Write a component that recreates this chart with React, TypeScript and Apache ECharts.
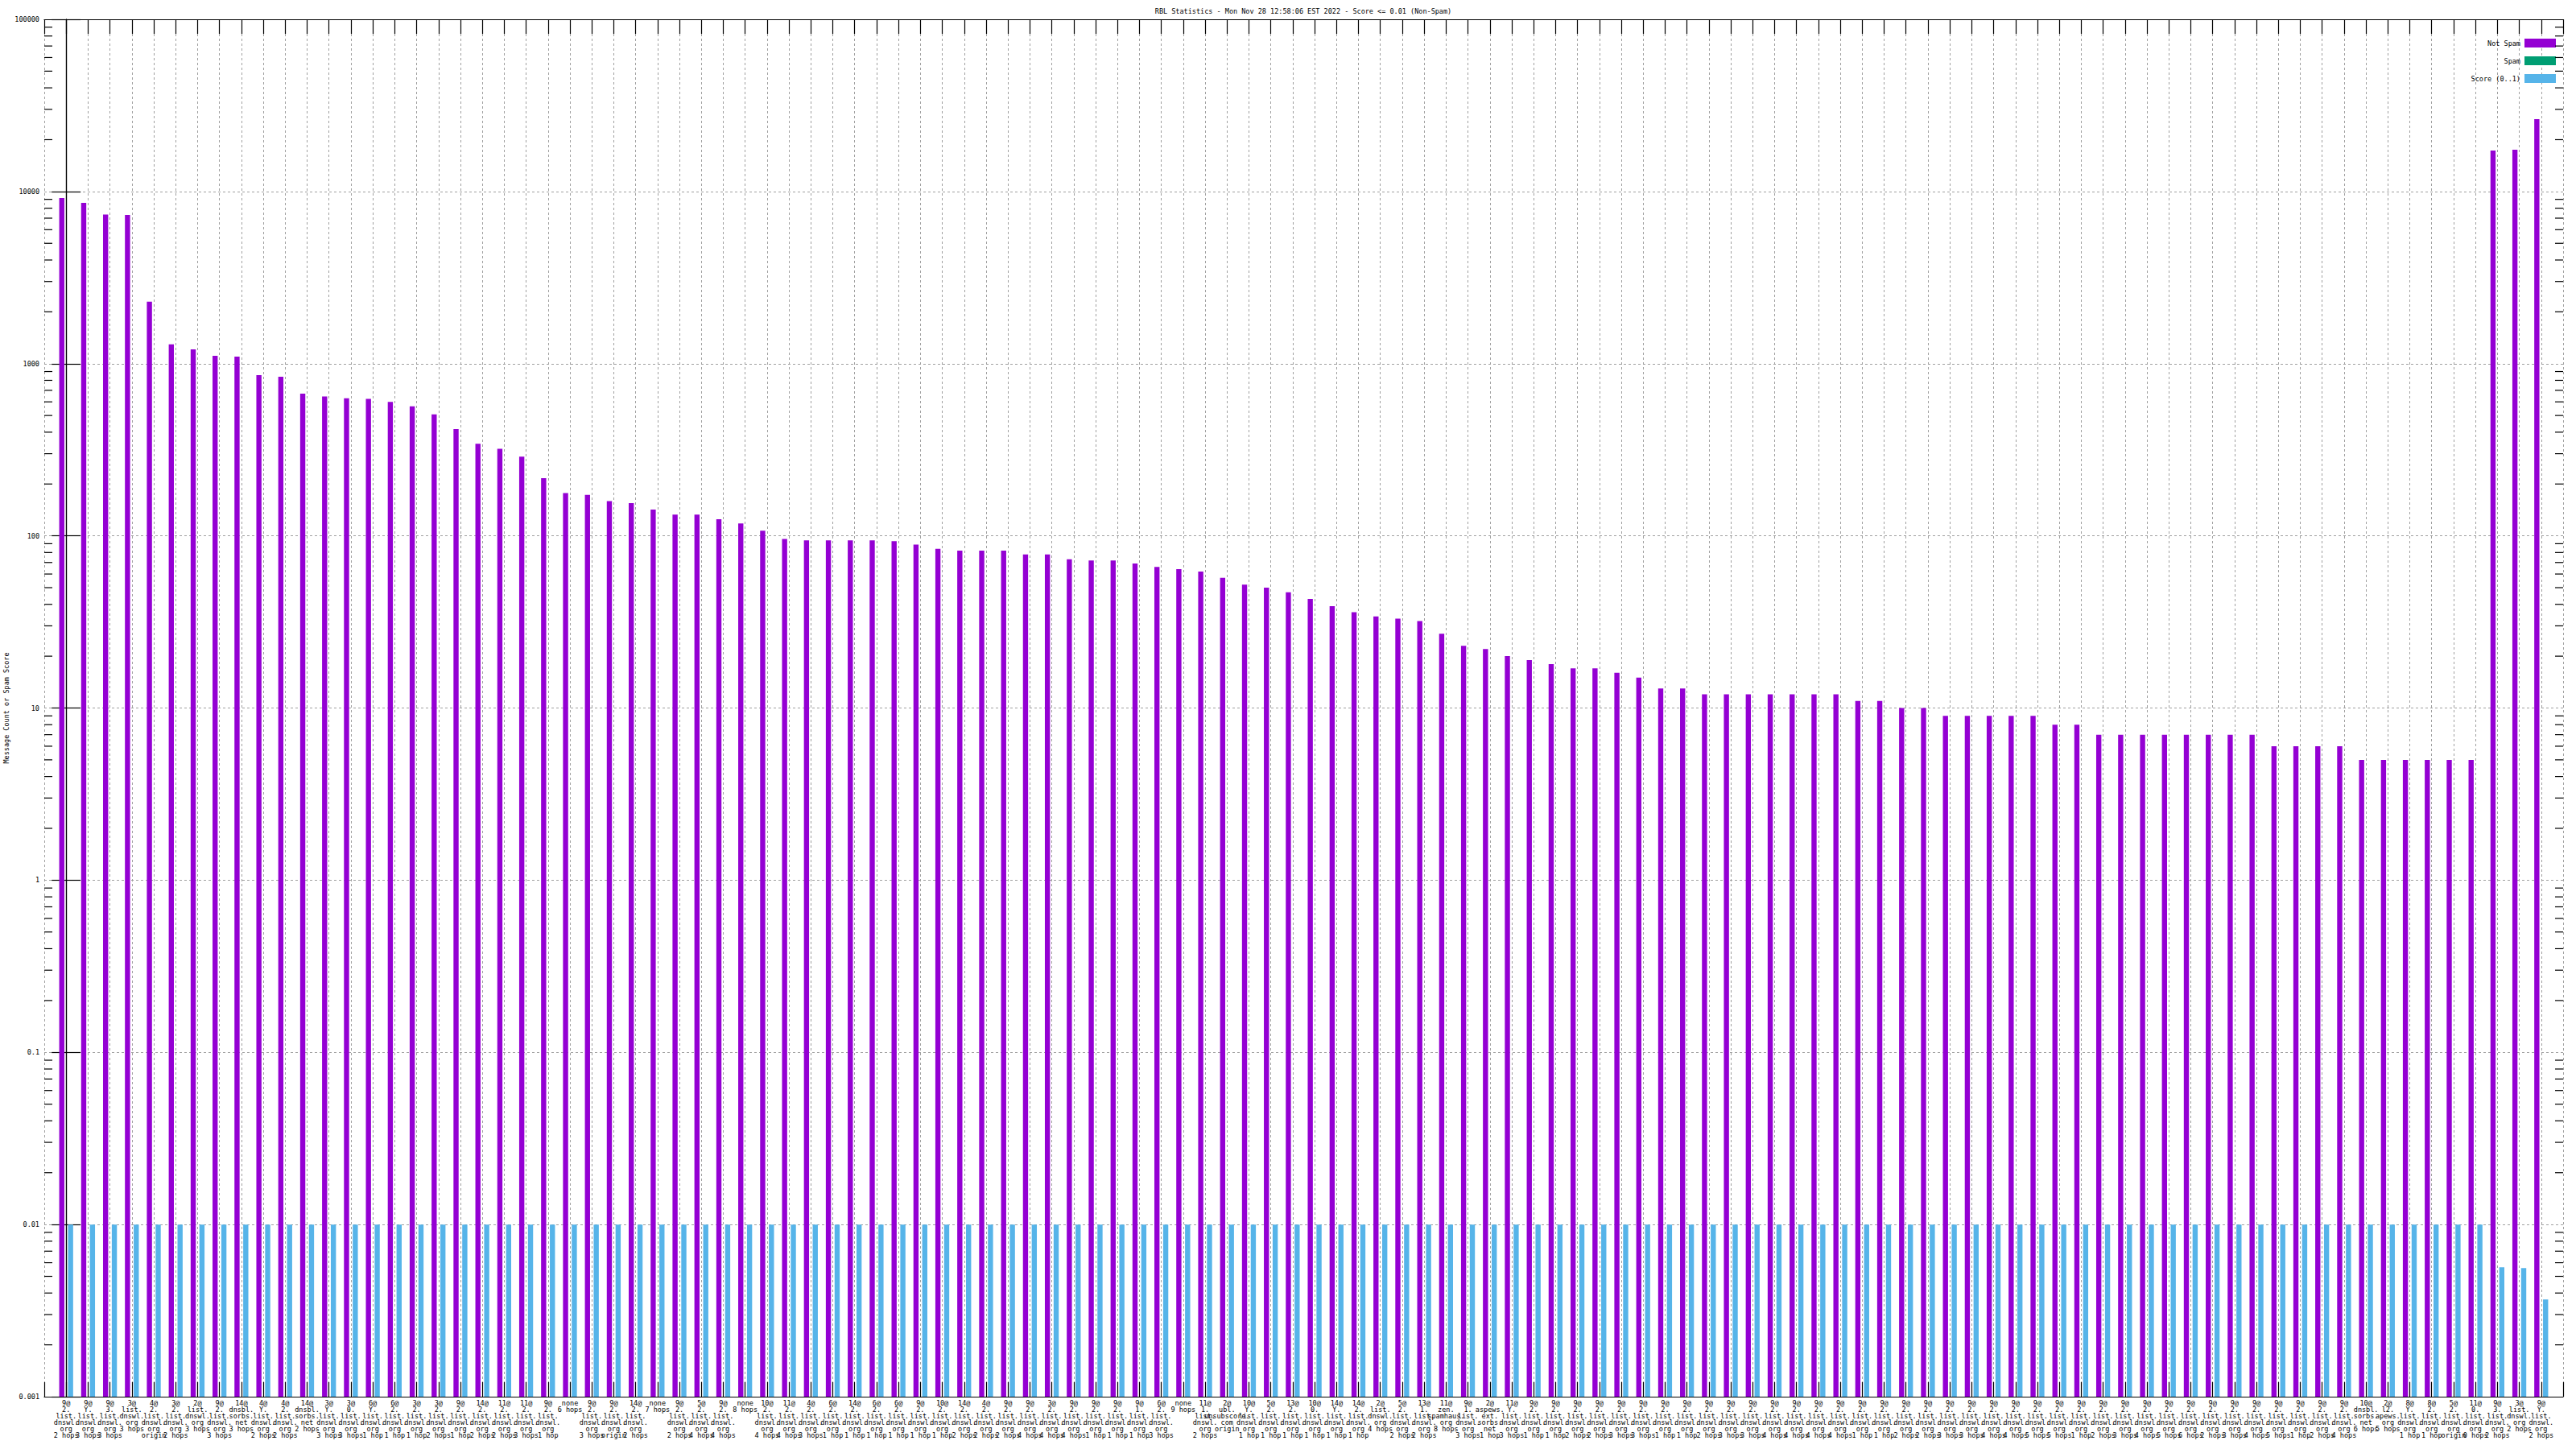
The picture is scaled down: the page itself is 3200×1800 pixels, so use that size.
import React, { useEffect, useRef } from "react";
import * as echarts from "echarts";

const TITLE = "RBL Statistics - Mon Nov 28 12:58:06 EST 2022 - Score <= 0.01 (Non-Spam)";
const Y_NAME = "Message Count or Spam Score";
const SERIES_NAMES = ["Not Spam", "Spam", "Score (0..1)"];
const SERIES_COLORS = ["#9400d3", "#009e73", "#56b4e9"];

const categories: string[] = [
  "9@\n2.\nlist.\ndnswl.\norg\n2 hops",
  "9@\nY.\nlist.\ndnswl.\norg\n3 hops",
  "9@\n3.\nlist.\ndnswl.\norg\n3 hops",
  "3@\nlist.\ndnswl.\norg\n3 hops",
  "4@\n2.\nlist.\ndnswl.\norg\norigin",
  "3@\n2.\nlist.\ndnswl.\norg\n2 hops",
  "2@\nlist.\ndnswl.\norg\n3 hops",
  "9@\n2.\nlist.\ndnswl.\norg\n3 hops",
  "14@\ndnsbl.\nsorbs.\nnet\n3 hops",
  "4@\nY.\nlist.\ndnswl.\norg\n2 hops",
  "4@\n2.\nlist.\ndnswl.\norg\n2 hops",
  "14@\ndnsbl.\nsorbs.\nnet\n2 hops",
  "3@\nY.\nlist.\ndnswl.\norg\n3 hops",
  "3@\n0.\nlist.\ndnswl.\norg\n3 hops",
  "6@\nY.\nlist.\ndnswl.\norg\n1 hop",
  "6@\n2.\nlist.\ndnswl.\norg\n1 hop",
  "3@\n2.\nlist.\ndnswl.\norg\n1 hop",
  "3@\n2.\nlist.\ndnswl.\norg\n2 hops",
  "9@\n2.\nlist.\ndnswl.\norg\n1 hop",
  "14@\n2.\nlist.\ndnswl.\norg\n2 hops",
  "11@\n2.\nlist.\ndnswl.\norg\n2 hops",
  "11@\n2.\nlist.\ndnswl.\norg\n3 hops",
  "9@\n2.\nlist.\ndnswl.\norg\n1 hop",
  "none\n6 hops",
  "9@\n2.\nlist.\ndnswl.\norg\n3 hops",
  "9@\n2.\nlist.\ndnswl.\norg\norigin",
  "14@\n2.\nlist.\ndnswl.\norg\n2 hops",
  "none\n7 hops",
  "9@\n2.\nlist.\ndnswl.\norg\n2 hops",
  "5@\n2.\nlist.\ndnswl.\norg\n4 hops",
  "9@\n2.\nlist.\ndnswl.\norg\n4 hops",
  "none\n8 hops",
  "10@\n2.\nlist.\ndnswl.\norg\n4 hops",
  "11@\n2.\nlist.\ndnswl.\norg\n4 hops",
  "4@\n2.\nlist.\ndnswl.\norg\n3 hops",
  "6@\n2.\nlist.\ndnswl.\norg\n1 hop",
  "14@\n2.\nlist.\ndnswl.\norg\n1 hop",
  "6@\n2.\nlist.\ndnswl.\norg\n1 hop",
  "6@\n2.\nlist.\ndnswl.\norg\n1 hop",
  "9@\n2.\nlist.\ndnswl.\norg\n1 hop",
  "10@\n2.\nlist.\ndnswl.\norg\n1 hop",
  "14@\n2.\nlist.\ndnswl.\norg\n2 hops",
  "4@\n2.\nlist.\ndnswl.\norg\n2 hops",
  "9@\n2.\nlist.\ndnswl.\norg\n2 hops",
  "9@\n2.\nlist.\ndnswl.\norg\n4 hops",
  "3@\n2.\nlist.\ndnswl.\norg\n4 hops",
  "9@\n2.\nlist.\ndnswl.\norg\n4 hops",
  "9@\n2.\nlist.\ndnswl.\norg\n1 hop",
  "9@\n2.\nlist.\ndnswl.\norg\n1 hop",
  "9@\n1.\nlist.\ndnswl.\norg\n1 hop",
  "6@\n2.\nlist.\ndnswl.\norg\n3 hops",
  "none\n9 hops",
  "11@\n1.\nlist.\ndnswl.\norg\n2 hops",
  "2@\nubl.\nunsubscore.\ncom\norigin",
  "10@\nY.\nlist.\ndnswl.\norg\n1 hop",
  "5@\n2.\nlist.\ndnswl.\norg\n1 hop",
  "13@\n2.\nlist.\ndnswl.\norg\n1 hop",
  "10@\n0.\nlist.\ndnswl.\norg\n1 hop",
  "14@\nY.\nlist.\ndnswl.\norg\n1 hop",
  "14@\n2.\nlist.\ndnswl.\norg\n1 hop",
  "2@\nlist.\ndnswl.\norg\n4 hops",
  "5@\n2.\nlist.\ndnswl.\norg\n2 hops",
  "13@\n1.\nlist.\ndnswl.\norg\n2 hops",
  "11@\nzen.\nspamhaus.\norg\n8 hops",
  "9@\n1.\nlist.\ndnswl.\norg\n3 hops",
  "2@\naspews.\next.\nsorbs.\nnet\n1 hop",
  "11@\nY.\nlist.\ndnswl.\norg\n3 hops",
  "9@\n2.\nlist.\ndnswl.\norg\n1 hop",
  "9@\n2.\nlist.\ndnswl.\norg\n1 hop",
  "9@\n2.\nlist.\ndnswl.\norg\n2 hops",
  "9@\n2.\nlist.\ndnswl.\norg\n2 hops",
  "9@\n2.\nlist.\ndnswl.\norg\n3 hops",
  "9@\n2.\nlist.\ndnswl.\norg\n3 hops",
  "9@\n2.\nlist.\ndnswl.\norg\n1 hop",
  "9@\n2.\nlist.\ndnswl.\norg\n1 hop",
  "9@\n2.\nlist.\ndnswl.\norg\n2 hops",
  "9@\n2.\nlist.\ndnswl.\norg\n3 hops",
  "9@\n2.\nlist.\ndnswl.\norg\n3 hops",
  "9@\n2.\nlist.\ndnswl.\norg\n4 hops",
  "9@\n2.\nlist.\ndnswl.\norg\n4 hops",
  "9@\n2.\nlist.\ndnswl.\norg\n4 hops",
  "9@\n2.\nlist.\ndnswl.\norg\n4 hops",
  "9@\n2.\nlist.\ndnswl.\norg\n1 hop",
  "9@\n2.\nlist.\ndnswl.\norg\n1 hop",
  "9@\n2.\nlist.\ndnswl.\norg\n2 hops",
  "9@\n2.\nlist.\ndnswl.\norg\n2 hops",
  "9@\n2.\nlist.\ndnswl.\norg\n3 hops",
  "9@\n2.\nlist.\ndnswl.\norg\n3 hops",
  "9@\n2.\nlist.\ndnswl.\norg\n4 hops",
  "9@\n2.\nlist.\ndnswl.\norg\n4 hops",
  "9@\n2.\nlist.\ndnswl.\norg\n5 hops",
  "9@\n2.\nlist.\ndnswl.\norg\n5 hops",
  "9@\n2.\nlist.\ndnswl.\norg\n1 hop",
  "9@\n2.\nlist.\ndnswl.\norg\n2 hops",
  "9@\n2.\nlist.\ndnswl.\norg\n3 hops",
  "9@\n2.\nlist.\ndnswl.\norg\n4 hops",
  "9@\n2.\nlist.\ndnswl.\norg\n5 hops",
  "9@\n2.\nlist.\ndnswl.\norg\n6 hops",
  "9@\n2.\nlist.\ndnswl.\norg\n2 hops",
  "9@\n2.\nlist.\ndnswl.\norg\n3 hops",
  "9@\n2.\nlist.\ndnswl.\norg\n4 hops",
  "9@\n2.\nlist.\ndnswl.\norg\n5 hops",
  "9@\n2.\nlist.\ndnswl.\norg\n1 hop",
  "9@\n2.\nlist.\ndnswl.\norg\n2 hops",
  "9@\n2.\nlist.\ndnswl.\norg\n4 hops",
  "10@\ndnsbl.\nsorbs.\nnet\n6 hops",
  "2@\nl2.\napews.\norg\n5 hops",
  "8@\nY.\nlist.\ndnswl.\norg\n1 hop",
  "8@\n2.\nlist.\ndnswl.\norg\n1 hop",
  "5@\n2.\nlist.\ndnswl.\norg\norigin",
  "11@\n0.\nlist.\ndnswl.\norg\n0 hops",
  "9@\n3.\nlist.\ndnswl.\norg\n2 hops",
  "3@\nlist.\ndnswl.\norg\n2 hops",
  "9@\nY.\nlist.\ndnswl.\norg\n2 hops",
];

const notSpamCounts: number[] = [
  9160, 8580, 7350, 7300, 2290, 1295, 1210, 1110, 1100, 858,
  840, 670, 645, 630, 625, 600, 565, 508, 417, 343,
  320, 288, 216, 177, 173, 159, 155, 142, 133, 133,
  125, 118, 107, 96, 94, 94, 94, 94, 93, 89,
  84, 82, 82, 82, 78, 78, 73, 72, 72, 69,
  66, 64, 62, 57, 52, 50, 47, 43, 39, 36,
  34, 33, 32, 27, 23, 22, 20, 19, 18, 17,
  17, 16, 15, 13, 13, 12, 12, 12, 12, 12,
  12, 12, 11, 11, 10, 10, 9, 9, 9, 9,
  9, 8, 8, 7, 7, 7, 7, 7, 7, 7,
  7, 6, 6, 6, 6, 5, 5, 5, 5, 5,
  5, 17300, 17500, 26300,
];

const spamCounts: number[] = [
  0, 0, 0, 0, 0, 0, 0, 0, 0, 0,
  0, 0, 0, 0, 0, 0, 0, 0, 0, 0,
  0, 0, 0, 0, 0, 0, 0, 0, 0, 0,
  0, 0, 0, 0, 0, 0, 0, 0, 0, 0,
  0, 0, 0, 0, 0, 0, 0, 0, 0, 0,
  0, 0, 0, 0, 0, 0, 0, 0, 0, 0,
  0, 0, 0, 0, 0, 0, 0, 0, 0, 0,
  0, 0, 0, 0, 0, 0, 0, 0, 0, 0,
  0, 0, 0, 0, 0, 0, 0, 0, 0, 0,
  0, 0, 0, 0, 0, 0, 0, 0, 0, 0,
  0, 0, 0, 0, 0, 0, 0, 0, 0, 0,
  0, 0, 0, 0,
];

const scores: number[] = [
  0.01, 0.01, 0.01, 0.01, 0.01, 0.01, 0.01, 0.01, 0.01, 0.01,
  0.01, 0.01, 0.01, 0.01, 0.01, 0.01, 0.01, 0.01, 0.01, 0.01,
  0.01, 0.01, 0.01, 0.01, 0.01, 0.01, 0.01, 0.01, 0.01, 0.01,
  0.01, 0.01, 0.01, 0.01, 0.01, 0.01, 0.01, 0.01, 0.01, 0.01,
  0.01, 0.01, 0.01, 0.01, 0.01, 0.01, 0.01, 0.01, 0.01, 0.01,
  0.01, 0.01, 0.01, 0.01, 0.01, 0.01, 0.01, 0.01, 0.01, 0.01,
  0.01, 0.01, 0.01, 0.01, 0.01, 0.01, 0.01, 0.01, 0.01, 0.01,
  0.01, 0.01, 0.01, 0.01, 0.01, 0.01, 0.01, 0.01, 0.01, 0.01,
  0.01, 0.01, 0.01, 0.01, 0.01, 0.01, 0.01, 0.01, 0.01, 0.01,
  0.01, 0.01, 0.01, 0.01, 0.01, 0.01, 0.01, 0.01, 0.01, 0.01,
  0.01, 0.01, 0.01, 0.01, 0.01, 0.01, 0.01, 0.01, 0.01, 0.01,
  0.01, 0.00565, 0.00559, 0.00367,
];

const yTicks: number[] = [0.001, 0.01, 0.1, 1, 10, 100, 1000, 10000, 100000];
const yTickLabels: string[] = ["0.001", "0.01", "0.1", "1", "10", "100", "1000", "10000", "100000"];
const minorMultipliers: number[] = [2, 3, 4, 5, 6, 7, 8, 9];

const FONT = "DejaVu Sans Mono";
const FS = 8.5;
const Y_MIN = yTicks[0];
const Y_MAX = yTicks[yTicks.length - 1];
const X_MIN = -1;
const X_MAX = categories.length;
const BAR_W = 0.235;
const SLOT = 0.2;

const makeBarRender = (slotOffset: number, color: string) => (params: any, api: any) => {
  const xi = api.value(0);
  const v = api.value(1);
  if (!(v > 0)) return null;
  const top = api.coord([xi, v]);
  const base = api.coord([xi, Y_MIN]);
  const unit = api.coord([xi + 1, v])[0] - top[0];
  const w = unit * BAR_W;
  const cx = top[0] + unit * SLOT * slotOffset;
  return {
    type: "rect",
    shape: { x: cx - w / 2, y: top[1], width: w, height: base[1] - top[1] },
    style: { fill: color },
  };
};

const yLabel = (v: number) => {
  const i = yTicks.findIndex((t) => Math.abs(Math.log10(t) - Math.log10(v)) < 1e-6);
  return i >= 0 ? yTickLabels[i] : "";
};

export default function App() {
  const ref = useRef<HTMLDivElement>(null);
  useEffect(() => {
    document.body.style.margin = "0";
    const chart = echarts.init(ref.current!, null, { renderer: "svg" });

    const minorTicks: number[] = [];
    for (let k = 0; k < yTicks.length - 1; k++) {
      for (const m of minorMultipliers) minorTicks.push(yTicks[k] * m);
    }

    const gridLine = { show: true, lineStyle: { color: "#a0a0a0", width: 1, type: [3, 3] as any } };
    const frameLine = { show: true, lineStyle: { color: "#000", width: 1.2 } };
    const tick = { show: true, inside: true, length: 18, lineStyle: { color: "#000", width: 1.2 } };

    const option: any = {
      animation: false,
      backgroundColor: "#fff",
      textStyle: { fontFamily: FONT, color: "#000" },
      grid: { left: 55, right: 16, top: 24, bottom: 65, containLabel: false, outerBoundsMode: "none" },
      graphic: [
        {
          type: "text",
          x: 1619,
          y: 14,
          style: {
            text: TITLE,
            fontFamily: FONT,
            fontSize: FS,
            fill: "#000",
            align: "center",
            verticalAlign: "middle",
          },
        },
      ],
      legend: {
        data: SERIES_NAMES,
        orient: "vertical",
        right: 25,
        top: 48,
        align: "right",
        icon: "rect",
        itemWidth: 39,
        itemHeight: 11,
        itemGap: 11,
        padding: 0,
        selectedMode: false,
        textStyle: { fontFamily: FONT, fontSize: FS, color: "#000" },
      },
      xAxis: [
        {
          type: "value",
          min: X_MIN,
          max: X_MAX,
          interval: 1,
          position: "bottom",
          axisLine: frameLine,
          axisTick: tick,
          splitLine: gridLine,
          axisLabel: {
            show: true,
            margin: 4,
            fontFamily: FONT,
            fontSize: FS,
            lineHeight: 8,
            color: "#000",
            align: "center",
            verticalAlign: "top",
            showMinLabel: true,
            showMaxLabel: true,
            formatter: (v: number) => categories[Math.round(v)] ?? "",
          },
        },
        {
          type: "value",
          min: X_MIN,
          max: X_MAX,
          interval: 1,
          position: "top",
          axisLine: frameLine,
          axisTick: tick,
          splitLine: { show: false },
          axisLabel: { show: false },
        },
      ],
      yAxis: [
        {
          type: "log",
          logBase: 10,
          min: Y_MIN,
          max: Y_MAX,
          splitNumber: 8,
          position: "left",
          name: Y_NAME,
          nameLocation: "middle",
          nameGap: 43,
          nameRotate: 90,
          nameMoveOverlap: false,
          nameTextStyle: { fontFamily: FONT, fontSize: FS, color: "#000" },
          axisLine: frameLine,
          axisTick: tick,
          splitLine: gridLine,
          minorTick: { show: false },
          axisLabel: {
            margin: 6,
            fontFamily: FONT,
            fontSize: FS,
            color: "#000",
            formatter: yLabel,
          },
        },
        {
          type: "log",
          logBase: 10,
          min: Y_MIN,
          max: Y_MAX,
          splitNumber: 8,
          position: "right",
          axisLine: frameLine,
          axisTick: tick,
          splitLine: { show: false },
          axisLabel: { show: false },
        },
      ],
      series: [
        {
          name: SERIES_NAMES[0],
          type: "custom",
          xAxisIndex: 0,
          yAxisIndex: 0,
          itemStyle: { color: SERIES_COLORS[0] },
          encode: { x: 0, y: 1 },
          data: notSpamCounts.map((v, i) => [i, v]),
          renderItem: makeBarRender(-1, SERIES_COLORS[0]),
          silent: true,
          z: 3,
        },
        {
          name: SERIES_NAMES[1],
          type: "custom",
          xAxisIndex: 0,
          yAxisIndex: 0,
          itemStyle: { color: SERIES_COLORS[1] },
          encode: { x: 0, y: 1 },
          data: spamCounts.map((v, i) => [i, v]),
          renderItem: makeBarRender(0, SERIES_COLORS[1]),
          silent: true,
          z: 3,
        },
        {
          name: SERIES_NAMES[2],
          type: "custom",
          xAxisIndex: 0,
          yAxisIndex: 0,
          itemStyle: { color: SERIES_COLORS[2] },
          encode: { x: 0, y: 1 },
          data: scores.map((v, i) => [i, v]),
          renderItem: makeBarRender(1, SERIES_COLORS[2]),
          silent: true,
          z: 3,
        },
        {
          name: "minor-ticks",
          type: "custom",
          xAxisIndex: 0,
          yAxisIndex: 0,
          encode: { x: 0, y: 1 },
          data: minorTicks.map((v) => [0, v]),
          silent: true,
          z: 4,
          renderItem: (params: any, api: any) => {
            const y = api.coord([0, api.value(1)])[1];
            const cs = params.coordSys;
            return {
              type: "group",
              children: [
                { type: "line", shape: { x1: cs.x, y1: y, x2: cs.x + 10, y2: y }, style: { stroke: "#000", lineWidth: 1.2 } },
                { type: "line", shape: { x1: cs.x + cs.width - 10, y1: y, x2: cs.x + cs.width, y2: y }, style: { stroke: "#000", lineWidth: 1.2 } },
              ],
            };
          },
        },
      ],
    };

    chart.setOption(option);
    return () => chart.dispose();
  }, []);
  return <div ref={ref} style={{ width: 3200, height: 1800 }} />;
}
